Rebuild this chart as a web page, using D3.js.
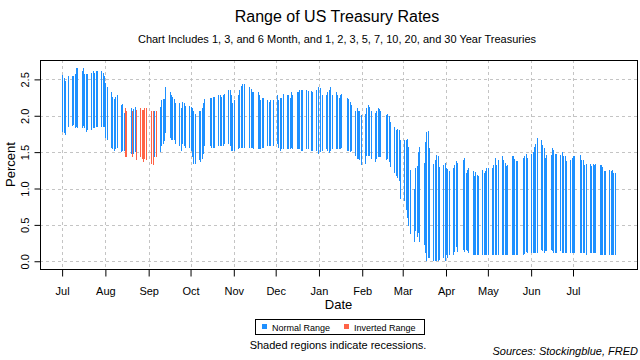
<!DOCTYPE html>
<html>
<head>
<meta charset="utf-8">
<script src="https://cdn.jsdelivr.net/npm/d3@7"></script>
<style>
  body { margin: 0; background: #fff; }
  svg { font-family: "Liberation Sans", Arial, sans-serif; display: block; }
</style>
</head>
<body>
<script>
// one row per trading week, Monday first, null = market closed
const weekStarts = ["2019-07-01","2019-07-08","2019-07-15","2019-07-22","2019-07-29",
  "2019-08-05","2019-08-12","2019-08-19","2019-08-26","2019-09-02","2019-09-09","2019-09-16",
  "2019-09-23","2019-09-30","2019-10-07","2019-10-14","2019-10-21","2019-10-28","2019-11-04",
  "2019-11-11","2019-11-18","2019-11-25","2019-12-02","2019-12-09","2019-12-16","2019-12-23",
  "2019-12-30","2020-01-06","2020-01-13","2020-01-20","2020-01-27","2020-02-03","2020-02-10",
  "2020-02-17","2020-02-24","2020-03-02","2020-03-09","2020-03-16","2020-03-23","2020-03-30",
  "2020-04-06","2020-04-13","2020-04-20","2020-04-27","2020-05-04","2020-05-11","2020-05-18",
  "2020-05-25","2020-06-01","2020-06-08","2020-06-15","2020-06-22","2020-06-29","2020-07-06",
  "2020-07-13","2020-07-20","2020-07-27"]

const highs = [
  [2.56,2.52,2.48,null,2.55],[2.55,2.55,2.58,2.66,2.66],[2.62,2.65,2.58,2.58,2.58],
  [2.59,2.62,2.59,2.62,2.61],[2.61,2.59,2.55,2.45,2.40],[2.32,2.26,2.23,2.26,2.28],
  [2.15,2.16,2.04,2.10,2.07],[2.10,2.07,2.09,2.12,2.08],[2.10,2.08,2.08,2.11,2.11],
  [null,2.07,2.07,2.07,2.07],[2.12,2.21,2.23,2.23,2.39],[2.32,2.29,2.26,2.23,2.18],
  [2.18,2.10,2.19,2.17,2.14],[2.14,2.12,2.10,2.06,2.03],[2.07,2.06,2.10,2.18,2.23],
  [null,2.25,2.25,2.26,2.26],[2.29,2.28,2.26,2.29,2.30],[2.36,2.35,2.28,2.18,2.22],
  [2.29,2.36,2.41,2.43,2.44],[null,2.40,2.37,2.32,2.32],[2.32,2.28,2.21,2.25,2.24],
  [2.22,2.19,2.21,null,2.22],[2.29,2.21,2.24,2.25,2.30],[2.29,2.28,2.25,2.33,2.28],
  [2.32,2.32,2.36,2.36,2.36],[2.36,2.34,null,2.34,2.33],[2.36,2.40,null,2.38,2.28],
  [2.29,2.32,2.36,2.40,2.29],[2.32,2.29,2.25,2.28,2.30],[null,2.25,2.23,2.19,2.15],
  [2.07,2.11,2.07,2.06,2.01],[2.03,2.10,2.15,2.12,2.07],[2.04,2.07,2.10,2.09,2.06],
  [null,2.01,2.03,1.99,1.92],[1.85,1.81,1.82,1.81,1.66],[1.67,1.66,1.68,1.57,1.26],
  [1.00,1.28,1.31,1.50,1.57],[1.35,1.64,1.78,1.79,1.56],[1.34,1.39,1.46,1.44,1.30],
  [1.33,1.35,1.28,1.27,1.24],[1.28,1.33,1.38,1.35,null],[1.39,1.42,1.22,1.25,1.28],
  [1.24,1.17,1.23,1.19,1.17],[1.26,1.22,1.24,1.28,1.28],[1.28,1.33,1.42,1.33,1.39],
  [1.44,1.39,1.35,1.31,1.33],[1.45,1.44,1.41,1.38,1.38],[null,1.42,1.45,1.48,1.42],
  [1.48,1.50,1.57,1.61,1.70],[1.66,1.60,1.55,1.42,1.46],[1.46,1.55,1.53,1.48,1.48],
  [1.46,1.50,1.45,1.44,1.38],[1.39,1.42,1.44,1.44,null],[1.46,1.39,1.39,1.33,1.34],
  [1.34,1.31,1.34,1.33,1.34],[1.33,1.33,1.30,1.24,1.24],[1.26,1.24,1.26,1.22,1.22]
]

const lows = [
  [1.77,1.76,1.74,null,1.84],[1.86,1.87,1.83,1.85,1.83],[1.83,1.86,1.83,1.77,1.80],
  [1.80,1.83,1.83,1.85,1.85],[1.84,1.84,1.84,1.69,1.66],[1.55,1.54,1.52,1.54,1.56],
  [1.50,1.51,1.52,1.43,1.43],[1.47,1.43,1.47,1.50,1.39],[1.43,1.40,1.37,1.40,1.39],
  [null,1.34,1.32,1.43,1.43],[1.50,1.59,1.61,1.65,1.76],[1.69,1.66,1.66,1.66,1.61],
  [1.59,1.52,1.61,1.59,1.56],[1.55,1.51,1.43,1.34,1.34],[1.39,1.36,1.40,1.48,1.59],
  [null,1.59,1.56,1.56,1.56],[1.59,1.58,1.59,1.59,1.61],[1.61,1.59,1.51,1.51,1.52],
  [1.54,1.55,1.55,1.55,1.55],[null,1.56,1.56,1.55,1.54],[1.54,1.54,1.54,1.55,1.56],
  [1.58,1.58,1.59,null,1.59],[1.61,1.55,1.52,1.54,1.54],[1.54,1.54,1.54,1.55,1.54],
  [1.54,1.54,1.54,1.52,1.52],[1.54,1.54,null,1.52,1.51],[1.52,1.48,null,1.50,1.52],
  [1.54,1.52,1.49,1.52,1.54],[1.54,1.54,1.54,1.54,1.55],[null,1.52,1.52,1.50,1.51],
  [1.44,1.41,1.40,1.39,1.32],[1.34,1.44,1.44,1.44,1.41],[1.37,1.40,1.43,1.43,1.43],
  [null,1.39,1.41,1.37,1.30],[1.21,1.17,1.14,1.11,0.86],[0.83,0.71,0.59,0.48,0.38],
  [0.27,0.42,0.33,0.39,0.27],[0.23,0.12,0.01,0.04,0.04],[0.01,0.01,0.00,0.00,0.02],
  [0.04,0.01,0.09,0.04,0.09],[0.09,0.13,0.20,0.13,null],[0.16,0.13,0.16,0.14,0.12],
  [0.09,0.08,0.09,0.09,0.09],[0.08,0.08,0.09,0.09,0.09],[0.09,0.08,0.09,0.09,0.09],
  [0.09,0.09,0.09,0.09,0.09],[0.09,0.08,0.09,0.09,0.08],[null,0.09,0.10,0.13,0.12],
  [0.12,0.12,0.12,0.12,0.12],[0.15,0.14,0.12,0.14,0.14],[0.15,0.14,0.12,0.12,0.12],
  [0.14,0.12,0.11,0.12,0.12],[0.12,0.12,0.12,0.12,null],[0.12,0.12,0.11,0.11,0.09],
  [0.11,0.11,0.11,0.11,0.11],[0.09,0.09,0.09,0.09,0.09],[0.09,0.09,0.09,0.09,0.09]
]

const invertedDays = ["2019-08-15","2019-08-16","2019-08-20","2019-08-23","2019-08-26",
  "2019-08-27","2019-08-28","2019-08-29","2019-08-30","2019-09-03","2019-09-04","2019-09-06"]

const monthTicks = ["2019-07-01","2019-08-01","2019-09-01","2019-10-01","2019-11-01",
  "2019-12-01","2020-01-01","2020-02-01","2020-03-01","2020-04-01","2020-05-01",
  "2020-06-01","2020-07-01"]
const monthLabels = ["Jul","Aug","Sep","Oct","Nov","Dec","Jan","Feb","Mar","Apr","May","Jun","Jul"]
const yTicks = [0, 0.5, 1, 1.5, 2, 2.5]

const blue = "#1E90FF"
const red = "#FF6347"

let parse = d3.utcParse("%Y-%m-%d")
let fmt = d3.utcFormat("%Y-%m-%d")

let data = []
weekStarts.forEach((w, i)=>{
    let monday = parse(w)
    for (let k = 0; k < 5; k++) {
        if (highs[i][k] == null) continue
        let date = d3.utcDay.offset(monday, k)
        data.push({date: date, hi: highs[i][k], lo: lows[i][k], inv: invertedDays.includes(fmt(date))})
    }
})

let width = 640, height = 360
let pLeft = 40, pRight = 637, pTop = 60, pBottom = 269

let svg = d3.select("body").append("svg")
    .attr("width", width)
    .attr("height", height)

// R style 4% padding around the data range
let t0 = d3.min(data, d=>d.date), t1 = d3.max(data, d=>d.date)
let span = t1 - t0
let xScale = d3.scaleUtc()
    .domain([new Date(+t0 - span*0.04), new Date(+t1 + span*0.04)])
    .range([pLeft, pRight])
let yMax = d3.max(data, d=>d.hi), yMin = 0
let yScale = d3.scaleLinear()
    .domain([yMin - (yMax-yMin)*0.04, yMax + (yMax-yMin)*0.04])
    .range([pBottom, pTop])

// grid
svg.append("g").selectAll("line")
    .data(monthTicks)
    .enter().append("line")
    .attr("x1", d=>Math.round(xScale(parse(d)))+0.5)
    .attr("x2", d=>Math.round(xScale(parse(d)))+0.5)
    .attr("y1", pTop).attr("y2", pBottom)
    .attr("stroke", "#c4c4c4")
    .attr("stroke-dasharray", "3,3")
svg.append("g").selectAll("line")
    .data(yTicks)
    .enter().append("line")
    .attr("x1", pLeft).attr("x2", pRight)
    .attr("y1", d=>Math.round(yScale(d))+0.5)
    .attr("y2", d=>Math.round(yScale(d))+0.5)
    .attr("stroke", "#c4c4c4")
    .attr("stroke-dasharray", "3,3")

// range bars
svg.append("g").selectAll("rect")
    .data(data)
    .enter().append("rect")
    .attr("x", d=>Math.round(xScale(d.date)))
    .attr("width", 1)
    .attr("y", d=>yScale(d.hi))
    .attr("height", d=>yScale(d.lo)-yScale(d.hi))
    .attr("fill", d=>d.inv ? red : blue)
    .attr("shape-rendering", "crispEdges")

// frame
svg.append("rect")
    .attr("x", pLeft+0.5).attr("y", pTop+0.5)
    .attr("width", pRight-pLeft).attr("height", pBottom-pTop)
    .attr("fill", "none")
    .attr("stroke", "#000")

// x axis
let xAxis = d3.axisBottom(xScale)
    .tickValues(monthTicks.map(parse))
    .tickFormat((d, i)=>monthLabels[i])
    .tickSize(7)
    .tickPadding(11)
let gx = svg.append("g")
    .attr("transform", "translate(0," + (pBottom+0.5) + ")")
    .call(xAxis)
gx.select(".domain").remove()
gx.selectAll("text").attr("font-size", 11).attr("fill", "#000").attr("font-family", "Liberation Sans, Arial, sans-serif")
gx.selectAll("line").attr("stroke", "#000")

// y axis
let yAxis = d3.axisLeft(yScale)
    .tickValues(yTicks)
    .tickFormat(d3.format(".1f"))
    .tickSize(6)
let gy = svg.append("g")
    .attr("transform", "translate(" + (pLeft+0.5) + ",0)")
    .call(yAxis)
gy.select(".domain").remove()
gy.selectAll("line").attr("stroke", "#000")
gy.selectAll("text")
    .attr("font-size", 11).attr("fill", "#000").attr("font-family", "Liberation Sans, Arial, sans-serif")
    .attr("x", null).attr("dy", null)
    .attr("text-anchor", "middle")
    .attr("transform", "translate(-12,0) rotate(-90)")

// titles
svg.append("text")
    .attr("x", 337).attr("y", 22)
    .attr("text-anchor", "middle")
    .attr("font-size", 16)
    .text("Range of US Treasury Rates")
svg.append("text")
    .attr("x", 337).attr("y", 43)
    .attr("text-anchor", "middle")
    .attr("font-size", 11)
    .text("Chart Includes 1, 3, and 6 Month, and 1, 2, 3, 5, 7, 10, 20, and 30 Year Treasuries")
svg.append("text")
    .attr("x", (pLeft+pRight)/2).attr("y", 309)
    .attr("text-anchor", "middle")
    .attr("font-size", 13)
    .text("Date")
svg.append("text")
    .attr("transform", "translate(15," + (pTop+pBottom)/2 + ") rotate(-90)")
    .attr("text-anchor", "middle")
    .attr("font-size", 13)
    .text("Percent")

// legend
let legend = svg.append("g")
legend.append("rect")
    .attr("x", 255.5).attr("y", 319.5)
    .attr("width", 169).attr("height", 15)
    .attr("fill", "#fff").attr("stroke", "#000")
let items = [["Normal Range", blue, 262], ["Inverted Range", red, 344]]
items.forEach(it=>{
    legend.append("rect")
        .attr("x", it[2]).attr("y", 324)
        .attr("width", 5).attr("height", 5)
        .attr("fill", it[1])
    legend.append("text")
        .attr("x", it[2]+10).attr("y", 330.5)
        .attr("font-size", 9)
        .text(it[0])
})

svg.append("text")
    .attr("x", 338).attr("y", 349)
    .attr("text-anchor", "middle")
    .attr("font-size", 11)
    .text("Shaded regions indicate recessions.")
svg.append("text")
    .attr("x", 638).attr("y", 355)
    .attr("text-anchor", "end")
    .attr("font-size", 11)
    .attr("font-style", "italic")
    .text("Sources: Stockingblue, FRED")
</script>
</body>
</html>
